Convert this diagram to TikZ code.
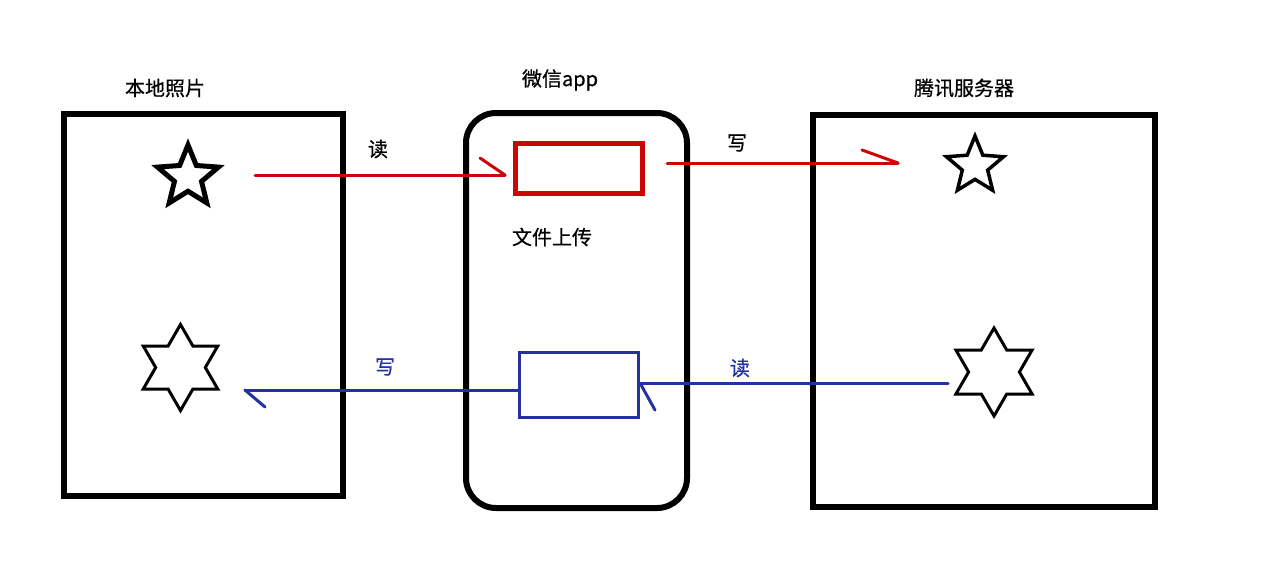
\documentclass[tikz,border=0pt]{standalone}
\usepackage{fontspec}
\setmainfont{Noto Sans CJK SC}[FakeBold=0.6]
\usetikzlibrary{shapes.geometric}
\definecolor{myred}{RGB}{205,5,5}
\definecolor{myblue}{RGB}{35,50,160}
\begin{document}
\begin{tikzpicture}[x=1pt,y=-1pt,
  panel/.style={draw=black,line width=6pt,inner sep=0pt},
  lbl/.style={font=\fontsize{20}{24}\selectfont,inner sep=0pt},
  fivestar/.style={draw=black,star,star points=5,star point ratio=2.25,inner sep=0pt},
  hexstar/.style={draw=black,star,star points=6,star point ratio=1.732,inner sep=0pt,line width=3pt},
  redline/.style={draw=myred,line width=3pt,line cap=round},
  blueline/.style={draw=myblue,line width=3pt,line cap=round}]
\useasboundingbox[fill=white] (0,0) rectangle (1273,574);
% panels
\node[panel,minimum width=279pt,minimum height=382pt] (local) at (203.5,305) {};
\node[panel,rounded corners=30pt,minimum width=221pt,minimum height=395pt] (app) at (576.5,310.5) {};
\node[panel,minimum width=342pt,minimum height=392pt] (server) at (984,311) {};
% titles
\node[lbl] (tlocal) at (165,88) {本地照片};
\node[lbl] (tapp) at (560,80) {微信app};
\node[lbl] (tserver) at (964,88) {腾讯服务器};
% stars
\node[fivestar,line width=5pt,minimum size=64pt] (lstar) at (188,177) {};
\node[hexstar,minimum size=86pt] (lhex) at (180.5,367.5) {};
\node[fivestar,line width=3.5pt,minimum size=60pt] (rstar) at (975,166) {};
\node[hexstar,minimum size=88pt] (rhex) at (994,372) {};
% inner boxes
\node[draw=myred,line width=5pt,minimum width=127pt,minimum height=50pt,inner sep=0pt] (redbox) at (578.5,168) {};
\node[draw=myblue,line width=3pt,minimum width=119pt,minimum height=65pt,inner sep=0pt] (bluebox) at (578.5,384.5) {};
\node[lbl] (upload) at (552,237) {文件上传};
% connector end points
\coordinate (r1s) at (255,175);
\coordinate (r1e) at (505,175);
\coordinate (r2s) at (667,163);
\coordinate (r2e) at (898,163);
\coordinate (b1e) at (245,390);
\coordinate (b2s) at (948,383);
\coordinate (b2e) at (640,383);
% red arrows
\draw[redline] (r1s) -- (r1e);
\draw[redline] (r1e) -- +(-25,-17);
\draw[redline] (r2s) -- (r2e);
\draw[redline] (r2e) -- +(-36,-13);
% blue arrows
\draw[blueline] (bluebox.west |- b1e) -- (b1e);
\draw[blueline] (b1e) -- +(20,17);
\draw[blueline] (b2s) -- (b2e);
\draw[blueline] (b2e) -- +(15,27);
% labels
\node[lbl] (lread) at (378,149) {读};
\node[lbl] (lwrite) at (737,143) {写};
\node[lbl,text=myblue] (bwrite) at (385,367) {写};
\node[lbl,text=myblue] (bread) at (740,368) {读};
\end{tikzpicture}
\end{document}
